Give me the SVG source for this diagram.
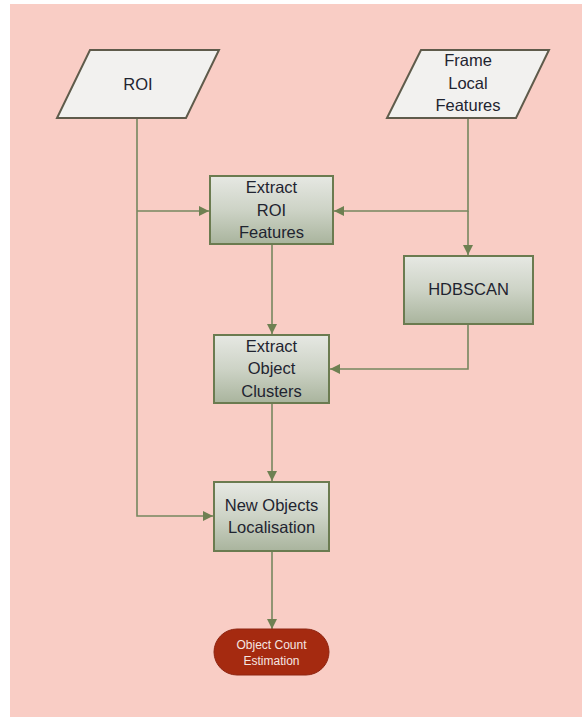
<svg xmlns="http://www.w3.org/2000/svg" width="582" height="717" viewBox="0 0 582 717">
<defs>
<linearGradient id="boxg" x1="0" y1="0" x2="0" y2="1">
<stop offset="0" stop-color="#E6E8E3"/>
<stop offset="0.5" stop-color="#CDD3C6"/>
<stop offset="1" stop-color="#A9B49D"/>
</linearGradient>
<marker id="arr" viewBox="0 0 10 10" refX="10" refY="5" markerWidth="10" markerHeight="10" markerUnits="userSpaceOnUse" orient="auto">
<path d="M0,0 L10,5 L0,10 Z" fill="#6E8052"/>
</marker>
</defs>
<style>
.box{fill:url(#boxg);stroke:#6B7B50;stroke-width:2}
.para{fill:#F2F1EF;stroke:#5F5B4B;stroke-width:2}
.t{font-family:"Liberation Sans",Arial,sans-serif;font-size:16.5px;fill:#1F2430;text-anchor:middle}
.tw{font-family:"Liberation Sans",Arial,sans-serif;font-size:12px;fill:#F5E6E2;text-anchor:middle}
.c{fill:none;stroke:#76875F;stroke-width:1.6}
</style>
<rect x="10" y="4" width="572" height="713" fill="#F9CDC5"/>
<g id="connectors">
<polyline class="c" points="137,118 137,516 213,516" marker-end="url(#arr)"/>
<line class="c" x1="137" y1="211" x2="209" y2="211" marker-end="url(#arr)"/>
<polyline class="c" points="468,118 468,211 334,211" marker-end="url(#arr)"/>
<line class="c" x1="468" y1="211" x2="468" y2="255" marker-end="url(#arr)"/>
<line class="c" x1="272" y1="244" x2="272" y2="334" marker-end="url(#arr)"/>
<polyline class="c" points="468,324 468,369 330,369" marker-end="url(#arr)"/>
<line class="c" x1="272" y1="403" x2="272" y2="481" marker-end="url(#arr)"/>
<line class="c" x1="272" y1="551" x2="272" y2="629" marker-end="url(#arr)"/>
</g>
<g id="roi">
<polygon class="para" points="90,50 219,50 186,118 57,118"/>
<text class="t" x="138" y="90">ROI</text>
</g>
<g id="frame">
<polygon class="para" points="421,50 549,50 516,118 387,118"/>
<text class="t" x="468" y="66">Frame</text>
<text class="t" x="468" y="89">Local</text>
<text class="t" x="468" y="111">Features</text>
</g>
<g id="extract-roi">
<rect class="box" x="210" y="176" width="123" height="68"/>
<text class="t" x="271.5" y="193">Extract</text>
<text class="t" x="271.5" y="216">ROI</text>
<text class="t" x="271.5" y="238">Features</text>
</g>
<g id="hdbscan">
<rect class="box" x="404" y="256" width="129" height="68"/>
<text class="t" x="468.5" y="295">HDBSCAN</text>
</g>
<g id="extract-clusters">
<rect class="box" x="214" y="335" width="115" height="68"/>
<text class="t" x="271.5" y="352">Extract</text>
<text class="t" x="271.5" y="374">Object</text>
<text class="t" x="271.5" y="397">Clusters</text>
</g>
<g id="localisation">
<rect class="box" x="214" y="482" width="115" height="69"/>
<text class="t" x="271.5" y="511">New Objects</text>
<text class="t" x="271.5" y="533">Localisation</text>
</g>
<g id="estimation">
<rect x="214" y="629" width="115" height="46" rx="23" ry="23" fill="#A52A10" stroke="#8E2410" stroke-width="1"/>
<text class="tw" x="271.5" y="649">Object Count</text>
<text class="tw" x="271.5" y="665">Estimation</text>
</g>
</svg>
